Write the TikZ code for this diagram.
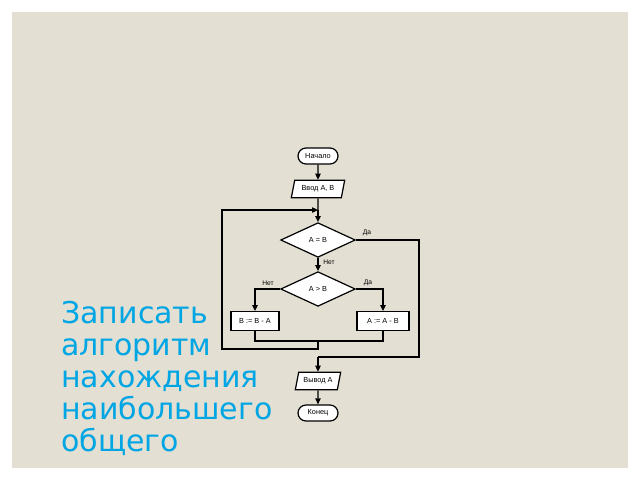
\documentclass[tikz,border=0pt]{standalone}
\usepackage{fontspec}
\setmainfont{DejaVu Sans}
\newfontfamily\fcfont{Liberation Sans}
\usetikzlibrary{shapes.geometric,arrows.meta}
\definecolor{slide}{RGB}{227,223,211}
\definecolor{ttl}{RGB}{0,166,228}
\begin{document}
\begin{tikzpicture}[x=0.75pt,y=-0.75pt,
  base/.style={draw,fill=white,line width=0.9pt,font=\fcfont\fontsize{5.5}{6}\selectfont,inner sep=1pt},
  term/.style={base,rounded corners=6pt,minimum width=30pt,minimum height=12pt},
  io/.style={base,trapezium,trapezium left angle=70,trapezium right angle=110,minimum height=13pt,trapezium stretches body},
  dec/.style={base,diamond,aspect=2.2,minimum width=56pt,minimum height=26pt},
  proc/.style={base,rectangle,minimum height=14pt},
  ln/.style={line width=0.9pt},
  arr/.style={ln,-{Triangle[length=4.5pt,width=4pt]}},
  lbl/.style={font=\fcfont\fontsize{5}{6}\selectfont,inner sep=0.5pt}]
\fill[white] (0,0) rectangle (640,480);
\fill[slide] (12,12) rectangle (628,468);
\node[term] (start) at (318,156) {Начало};
\node[io,minimum width=40pt] (in) at (318,189) {Ввод А, В};
\node[dec] (d1) at (318,240) {А = В};
\node[dec] (d2) at (318,289) {А > В};
\node[proc,minimum width=36pt] (p1) at (255,321) {В := В - А};
\node[proc,minimum width=39pt] (p2) at (383,321) {А := А - В};
\node[io,minimum width=34pt] (out) at (318,381) {Вывод А};
\node[term] (end) at (318,413) {Конец};
\coordinate (j) at (318,210);
\coordinate (m) at (318,341);
\coordinate (k) at (318,357);
\draw[arr] (start) -- (in);
\draw[ln] (in) -- (j);
\draw[arr] (j) -- (d1);
\draw[arr] (d1) -- node[lbl,right=3pt,pos=0.3]{Нет} (d2);
\draw[arr] (d2.west) -| (p1);
\draw[arr] (d2.east) -| (p2);
\draw[ln] (p1.south) |- (m) -| (p2.south);
\draw[arr] (m) -- (318,349) -| (222,210) -- (j);
\draw[ln] (d1.east) -| (419,357) -- (k);
\draw[arr] (k) -- (out);
\draw[arr] (out) -- (end);
\node[lbl] at (367,233) {Да};
\node[lbl] at (268,283) {Нет};
\node[lbl] at (368,283) {Да};
\node[anchor=north west,align=left,text=ttl,font=\fontsize{22.5}{24}\selectfont,inner sep=0] (t) at (61,301)
 {Записать\\алгоритм\\нахождения\\наибольшего\\общего};
\end{tikzpicture}
\end{document}
